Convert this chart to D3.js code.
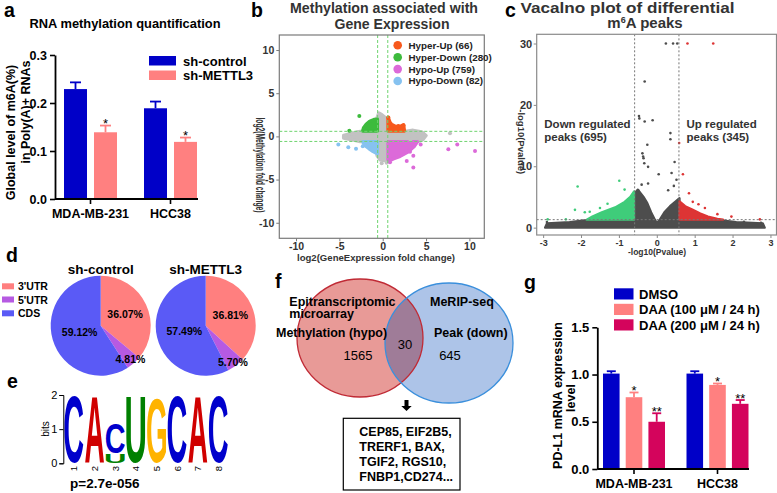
<!DOCTYPE html>
<html><head><meta charset="utf-8">
<script src="https://cdn.jsdelivr.net/npm/d3@7"></script>
<style>body{margin:0;background:#fff}svg{display:block}text{font-family:"Liberation Sans",Arial,sans-serif}</style>
</head><body><svg id="chart" width="777" height="493"></svg>
<script>
// ---------------- DATA ----------------
// Panel a
const aGroups = ["MDA-MB-231", "HCC38"];
const aSeries = ["sh-control", "sh-METTL3"];
const aControl = [0.229, 0.189];
const aControlErr = [0.014, 0.014];
const aMettl3 = [0.139, 0.119];
const aMettl3Err = [0.014, 0.009];
const aMettl3Sig = ["*", "*"];
const aTicks = [0, 0.1, 0.2, 0.3];

// Panel b
const bCategories = ["Hyper-Up (66)", "Hyper-Down (280)", "Hypo-Up (759)", "Hypo-Down (82)"];
const bXTicks = [-10, -5, 0, 5, 10];
const bYTicks = [-10, -5, 0, 5, 10];
const bCutoff = 0.585;
const bGreyCloud = [[-4.5,0.1],[-3.0,0.5],[-2.3,0.6],[-0.75,0.6],[-0.7,2.0],[-0.45,2.7],[-0.1,2.5],[0.5,2.0],[0.6,0.6],[2.8,0.6],[3.5,0.7],[4.5,0.5],[5.0,0.1],[4.6,-0.4],[4.0,-0.6],[0.6,-0.6],[0.55,-2.5],[0.2,-2.8],[-0.3,-2.7],[-0.65,-2.2],[-0.7,-0.6],[-2.6,-0.6],[-3.5,-0.4],[-4.5,-0.2]];
const bHyperUpCloud = [[0.62,0.62],[0.62,2.2],[0.8,1.7],[1.0,1.4],[1.5,1.15],[2.0,1.15],[2.4,1.35],[2.5,0.62]];
const bHyperDownCloud = [[-0.62,0.62],[-2.3,0.62],[-2.2,1.0],[-1.9,1.4],[-1.5,1.75],[-1.0,1.95],[-0.62,2.0]];
const bHypoUpCloud = [[0.62,-0.62],[4.0,-0.62],[3.6,-1.2],[2.9,-1.8],[2.0,-2.3],[1.2,-2.6],[0.62,-2.9]];
const bHypoDownCloud = [[-0.62,-0.62],[-2.3,-0.62],[-2.1,-1.0],[-1.6,-1.4],[-1.1,-1.75],[-0.62,-2.0]];
const bGreyPts = [[-4.3,0.0],[-3.77,-0.15],[4.68,0.36],[4.1,0.07],[7.76,0.35],[-0.12,-3.12],[0.46,-3.05],[-3.3,0.3],[3.2,-0.4]];
const bHyperUpPts = [[0.65,2.2],[2.4,1.25],[1.8,1.2]];
const bHyperDownPts = [[-2.7,2.35],[-3.85,0.65]];
const bHypoUpPts = [[2.69,-1.67],[3.53,-2.25],[2.77,-2.86],[3.53,-3.6],[7.57,-1.5],[8.6,-0.93],[10.65,-1.7],[0.84,-3.0],[4.38,-0.93],[3.15,-1.77]];
const bHypoDownPts = [[-5.12,-0.93],[-3.97,-1.27],[-3.08,-1.43],[-2.3,-1.15]];

// Panel c
const cXTicks = [-3, -2, -1, 0, 1, 2, 3];
const cYTicks = [0, 10, 20, 30];
const cFcCut = 0.585;
const cPCut = 1.3;
const cGreyCloud = [[-2.95,0.0],[-2.9,0.7],[-2.3,0.9],[-1.8,1.25],[-0.6,1.3],[-0.6,5.5],[-0.5,6.2],[-0.35,5.0],[-0.25,4.0],[-0.15,2.5],[-0.05,1.3],[0.0,0.8],[0.08,1.3],[0.2,2.5],[0.35,3.5],[0.5,4.3],[0.6,4.8],[0.6,1.3],[1.6,1.25],[2.1,0.9],[2.8,0.7],[2.85,0.0]];
const cDownCloud = [[-0.6,1.3],[-1.85,1.3],[-1.7,1.8],[-1.45,2.5],[-1.1,3.3],[-0.85,4.2],[-0.7,5.0],[-0.6,5.9]];
const cUpCloud = [[0.6,1.3],[0.6,4.3],[0.75,3.5],[0.95,2.9],[1.15,2.3],[1.35,1.8],[1.6,1.45],[1.75,1.3]];
const cGreyPts = [[0.24,30],[0.43,30],[0.54,30],[-0.32,23.8],[-0.47,18.2],[-0.46,17.8],[-0.32,17.3],[-0.11,17.5],[-0.25,13.5],[0.36,15.4],[0.36,14.4],[-0.38,12.1],[-0.36,11.6],[-0.35,11.3],[-0.33,10.5],[0.47,10.7],[0.39,8.9],[-0.23,7.2],[-0.23,9.9],[0.3,6.1],[0.52,7.8],[-0.49,6.1],[0.05,8.7],[-0.4,7.0],[0.45,6.8],[-2.9,0.9],[2.75,0.8],[2.3,0.95],[-2.5,0.7]];
const cDownPts = [[-2.09,6.7],[-0.99,7.65],[-2.16,2.9],[-2.4,1.35],[-2.88,1.35],[-1.77,2.6],[-1.9,2.5],[-1.5,3.2],[-1.3,3.9],[-0.85,6.2]];
const cUpPts = [[0.81,30],[1.49,30],[0.59,13.8],[0.69,8.7],[0.85,5.6],[1.27,3.2],[1.97,1.8],[2.72,1.35],[1.1,3.8],[0.95,4.2],[1.6,2.2]];
const cLabels = ["Down regulated", "peaks (695)", "Up regulated", "peaks (345)"];

// Panel d
const dRegions = ["3'UTR", "5'UTR", "CDS"];
const dSamples = ["sh-control", "sh-METTL3"];
const dControl = [36.07, 4.81, 59.12];
const dMettl3 = [36.81, 5.70, 57.49];

// Panel e
const eLetters = [["C"],["A"],["U","C"],["U"],["G"],["C"],["A"],["C"]];
const eBits = [[1.95],[1.95],[0.28,0.88],[1.95],[1.9],[1.95],[1.95],[1.95]];
const eTicks = [0, 1, 2];
const eP = "p=2.7e-056";

// Panel f
const fSetA = ["Epitranscriptomic", "microarray", "Methylation (hypo)"];
const fSetB = ["MeRIP-seq", "Peak (down)"];
const fCounts = [1565, 30, 645];
const fGenes = ["CEP85, EIF2B5,", "TRERF1, BAX,", "TGIF2, RGS10,", "FNBP1,CD274..."];

// Panel g
const gGroups = ["MDA-MB-231", "HCC38"];
const gSeries = ["DMSO", "DAA (100 \u03bcM / 24 h)", "DAA (200 \u03bcM / 24 h)"];
const gDMSO = [1.01, 1.01];
const gDMSOErr = [0.025, 0.025];
const gDAA100 = [0.76, 0.89];
const gDAA100Err = [0.05, 0.015];
const gDAA200 = [0.50, 0.69];
const gDAA200Err = [0.09, 0.04];
const gSig = [["", "*", "**"], ["", "*", "**"]];
const gTicks = [0, 0.5, 1.0, 1.5];

// ---------------- DRAW ----------------
const svg = d3.select("#chart");
svg.append("rect").attr("width", 777).attr("height", 493).attr("fill", "#fff");

function txt(g, x, y, s, o = {}) {
  const t = g.append("text").attr("x", x).attr("y", y).text(s)
    .attr("font-size", o.size || 12).attr("font-weight", o.weight || "bold")
    .attr("fill", o.fill || "#000").attr("text-anchor", o.anchor || "start");
  if (o.len) t.attr("textLength", o.len).attr("lengthAdjust", "spacingAndGlyphs");
  if (o.rotate) t.attr("transform", `rotate(${o.rotate},${x},${y})`);
  if (o.family) t.attr("font-family", o.family);
  return t;
}

// panel letters
[["a",4,17],["b",251,17],["c",505,17],["d",6,262],["e",7,388],["f",275,288],["g",524,289]]
  .forEach(([s,x,y]) => txt(svg, x, y, s, {size: 19.5}));

// ===== Panel a =====
{
  const g = svg.append("g");
  const ay = d3.scaleLinear().domain([0, 0.3]).range([199, 55]);
  const ax = d3.scalePoint().domain(aGroups).range([90.5, 170.5]);
  const inner = d3.scaleBand().domain(aSeries).range([-26.5, 26.5]).paddingInner(0.233);
  const colors = ["#0000c8", "#ff8080"];
  const vals = [aControl, aMettl3], errs = [aControlErr, aMettl3Err], sigs = [["",""], aMettl3Sig];
  aSeries.forEach((s, si) => {
    aGroups.forEach((grp, gi) => {
      const v = vals[si][gi], e = errs[si][gi];
      const x = ax(grp) + inner(s), w = inner.bandwidth(), cxm = x + w / 2;
      g.append("rect").attr("x", x).attr("y", ay(v)).attr("width", w).attr("height", ay(0) - ay(v)).attr("fill", colors[si]);
      g.append("line").attr("x1", cxm).attr("x2", cxm).attr("y1", ay(v)).attr("y2", ay(v + e)).attr("stroke", colors[si]).attr("stroke-width", 1.8);
      g.append("line").attr("x1", cxm - 5.5).attr("x2", cxm + 5.5).attr("y1", ay(v + e)).attr("y2", ay(v + e)).attr("stroke", colors[si]).attr("stroke-width", 1.8);
      if (sigs[si][gi]) txt(g, cxm, ay(v + e) + 2.5, sigs[si][gi], {size: 13, weight: "normal", anchor: "middle"});
    });
  });
  const yAxis = g.append("g").attr("transform", "translate(55,0)")
    .call(d3.axisLeft(ay).tickValues(aTicks).tickFormat(d3.format(".1f")).tickSize(5).tickSizeOuter(0));
  yAxis.select(".domain").attr("stroke-width", 1.8);
  yAxis.selectAll(".tick line").attr("stroke-width", 1.6);
  yAxis.selectAll("text").attr("font-size", 12.5).attr("font-weight", "bold").attr("font-family", '"Liberation Sans",Arial');
  g.append("line").attr("x1", 55).attr("x2", 198).attr("y1", ay(0)).attr("y2", ay(0)).attr("stroke", "#000").attr("stroke-width", 1.8);
  aGroups.forEach(grp => {
    g.append("line").attr("x1", ax(grp)).attr("x2", ax(grp)).attr("y1", ay(0)).attr("y2", ay(0) + 5).attr("stroke", "#000").attr("stroke-width", 1.6);
    txt(g, ax(grp), 218, grp, {size: 12.5, anchor: "middle"});
  });
  txt(g, 125, 28.3, "RNA methylation quantification", {size: 12.5, anchor: "middle", len: 191});
  txt(g, 15, 132.5, "Global level of m6A(%)", {size: 12.5, anchor: "middle", rotate: -90});
  txt(g, 29.5, 112, "in Poly(A)+ RNAs", {size: 12.5, anchor: "middle", rotate: -90});
  aSeries.forEach((s, i) => {
    g.append("rect").attr("x", 149).attr("y", 56 + i * 14.5).attr("width", 27).attr("height", 9.5).attr("fill", colors[i]);
    txt(g, 183, 65.5 + i * 14.5, s, {size: 13});
  });
}

// ===== Panel b =====
{
  const g = svg.append("g");
  const bx = d3.scaleLinear().domain([-11.93, 11.72]).range([279.3, 484.3]);
  const by = d3.scaleLinear().domain([-11.8, 11.74]).range([238.3, 35]);
  const [X0, X1] = bx.range(), [Y1, Y0] = by.range();
  svg.append("clipPath").attr("id", "clipB").append("rect").attr("x", X0).attr("y", Y0).attr("width", X1 - X0).attr("height", Y1 - Y0);
  const plot = g.append("g").attr("clip-path", "url(#clipB)");
  const line = d3.line().x(d => bx(d[0])).y(d => by(d[1])).curve(d3.curveLinearClosed);
  const cols = {grey: "#c2c2c2", hu: "#f7581c", hd: "#3dbb3d", pu: "#dc6ad9", pd: "#86c2f0"};
  const clouds = [[bGreyCloud, cols.grey], [bHyperUpCloud, cols.hu], [bHyperDownCloud, cols.hd], [bHypoUpCloud, cols.pu], [bHypoDownCloud, cols.pd]];
  clouds.forEach(([pts, c]) => plot.append("path").attr("d", line(pts)).attr("fill", c).attr("stroke", c).attr("stroke-width", 3.5).attr("stroke-linejoin", "round"));
  const ptsets = [[bGreyPts, cols.grey], [bHyperUpPts, cols.hu], [bHyperDownPts, cols.hd], [bHypoUpPts, cols.pu], [bHypoDownPts, cols.pd]];
  ptsets.forEach(([pts, c]) => plot.selectAll(null).data(pts).enter().append("circle")
    .attr("cx", d => bx(d[0])).attr("cy", d => by(d[1])).attr("r", 2).attr("fill", c));
  [-bCutoff, bCutoff].forEach(v => {
    plot.append("line").attr("x1", bx(v)).attr("x2", bx(v)).attr("y1", Y0).attr("y2", Y1).attr("stroke", "#6fd46f").attr("stroke-width", 1).attr("stroke-dasharray", "3,2");
    plot.append("line").attr("x1", X0).attr("x2", X1).attr("y1", by(v)).attr("y2", by(v)).attr("stroke", "#6fd46f").attr("stroke-width", 1).attr("stroke-dasharray", "3,2");
  });
  g.append("rect").attr("x", X0).attr("y", Y0).attr("width", X1 - X0).attr("height", Y1 - Y0).attr("fill", "none").attr("stroke", "#7a7a7a").attr("stroke-width", 1.2);
  const xa = g.append("g").attr("transform", `translate(0,${Y1})`).call(d3.axisBottom(bx).tickValues(bXTicks).tickSize(3).tickPadding(1).tickFormat(d => String(d)));
  const ya = g.append("g").attr("transform", `translate(${X0},0)`).call(d3.axisLeft(by).tickValues(bYTicks).tickSize(3).tickPadding(2).tickFormat(d => String(d)));
  [xa, ya].forEach(a => {
    a.select(".domain").remove();
    a.selectAll(".tick line").attr("stroke", "#7a7a7a");
    a.selectAll("text").attr("font-size", 10.5).attr("font-weight", "bold").attr("fill", "#333").attr("font-family", '"Liberation Sans",Arial');
  });
  txt(g, 376, 260.5, "log2(GeneExpression fold change)", {size: 9.8, anchor: "middle", fill: "#333", len: 158});
  txt(g, 256, 165, "log2(Methylation fold change)", {size: 12, anchor: "middle", fill: "#333", rotate: 90, len: 95});
  txt(g, 384, 13, "Methylation associated with", {size: 15.5, anchor: "middle", fill: "#333", len: 188});
  txt(g, 392, 28.5, "Gene Expression", {size: 15.5, anchor: "middle", fill: "#333", len: 115});
  const legCols = [cols.hu, cols.hd, cols.pu, cols.pd];
  bCategories.forEach((s, i) => {
    const yy = 45.3 + i * 11.9;
    g.append("circle").attr("cx", 397.7).attr("cy", yy).attr("r", 4.3).attr("fill", legCols[i]);
    txt(g, 408.5, yy + 3.4, s, {size: 9.8, fill: "#222", family: '"Liberation Serif","Times New Roman",serif'});
  });
}

// ===== Panel c =====
{
  const g = svg.append("g");
  const cx = d3.scaleLinear().domain([-3.17, 3.16]).range([536.7, 776.5]);
  const cy = d3.scaleLinear().domain([-1.2, 31.5]).range([235, 34.3]);
  const [X0, X1] = cx.range(), [Y1, Y0] = cy.range();
  svg.append("clipPath").attr("id", "clipC").append("rect").attr("x", X0).attr("y", Y0).attr("width", X1 - X0).attr("height", Y1 - Y0);
  const plot = g.append("g").attr("clip-path", "url(#clipC)");
  const line = d3.line().x(d => cx(d[0])).y(d => cy(d[1])).curve(d3.curveLinearClosed);
  const cols = {grey: "#4d4d4d", down: "#3fcc7a", up: "#dd3434"};
  [[cGreyCloud, cols.grey], [cDownCloud, cols.down], [cUpCloud, cols.up]].forEach(([pts, c]) =>
    plot.append("path").attr("d", line(pts)).attr("fill", c).attr("stroke", c).attr("stroke-width", 2.2).attr("stroke-linejoin", "round"));
  [[cGreyPts, cols.grey], [cDownPts, cols.down], [cUpPts, cols.up]].forEach(([pts, c]) =>
    plot.selectAll(null).data(pts).enter().append("circle").attr("cx", d => cx(d[0])).attr("cy", d => cy(d[1])).attr("r", 1.3).attr("fill", c));
  [-cFcCut, cFcCut].forEach(v => plot.append("line").attr("x1", cx(v)).attr("x2", cx(v)).attr("y1", Y0).attr("y2", Y1)
    .attr("stroke", "#777").attr("stroke-width", 1).attr("stroke-dasharray", "2,2"));
  plot.append("line").attr("x1", X0).attr("x2", X1).attr("y1", cy(cPCut)).attr("y2", cy(cPCut)).attr("stroke", "#777").attr("stroke-width", 1).attr("stroke-dasharray", "2,2");
  g.append("rect").attr("x", X0).attr("y", Y0).attr("width", X1 - X0).attr("height", Y1 - Y0).attr("fill", "none").attr("stroke", "#8a8a8a").attr("stroke-width", 1.2);
  const xa = g.append("g").attr("transform", `translate(0,${Y1})`).call(d3.axisBottom(cx).tickValues(cXTicks).tickSize(3).tickPadding(1.5).tickFormat(d => String(d)));
  const ya = g.append("g").attr("transform", `translate(${X0},0)`).call(d3.axisLeft(cy).tickValues(cYTicks).tickSize(3).tickPadding(1.5).tickFormat(d => String(d)));
  [xa, ya].forEach(a => {
    a.select(".domain").remove();
    a.selectAll(".tick line").attr("stroke", "#8a8a8a");
    a.selectAll("text").attr("font-weight", "bold").attr("fill", "#333").attr("font-family", '"Liberation Sans",Arial');
  });
  xa.selectAll("text").attr("font-size", 9);
  ya.selectAll("text").attr("font-size", 11);
  txt(g, 657, 255, "-log10(Pvalue)", {size: 8.5, anchor: "middle", fill: "#333"});
  txt(g, 518, 141.7, "-log10(Pvalue)", {size: 9.5, anchor: "middle", fill: "#333", rotate: 90});
  txt(g, 627.5, 12.5, "Vacalno plot of differential", {size: 15, anchor: "middle", fill: "#333", len: 214});
  const t2 = txt(g, 645, 28, "m", {size: 15, anchor: "middle", fill: "#333"});
  t2.append("tspan").attr("font-size", 9).attr("dy", -5.5).text("6");
  t2.append("tspan").attr("dy", 5.5).text("A peaks");
  txt(g, 544.3, 128, cLabels[0], {size: 11.5, fill: "#333"});
  txt(g, 544.3, 140.5, cLabels[1], {size: 11.5, fill: "#333"});
  txt(g, 686.5, 128, cLabels[2], {size: 11.5, fill: "#333"});
  txt(g, 686.5, 140.5, cLabels[3], {size: 11.5, fill: "#333"});
}

// ===== Panel d =====
{
  const g = svg.append("g");
  const colors = d3.scaleOrdinal().domain(dRegions).range(["#ff7f7f", "#b65ae2", "#5a5af6"]);
  const pie = d3.pie().sort(null).value(d => d.v);
  const arc = d3.arc().innerRadius(0).outerRadius(50);
  const labelR = [27, 45, 22];
  const centers = [100.7, 205.7];
  [dControl, dMettl3].forEach((vals, si) => {
    const pg = g.append("g").attr("transform", `translate(${centers[si]},325.7)`);
    const arcs = pie(dRegions.map((r, i) => ({r, v: vals[i]})));
    pg.selectAll(null).data(arcs).enter().append("path").attr("d", arc).attr("fill", d => colors(d.data.r));
    arcs.forEach((a, i) => {
      const la = d3.arc().innerRadius(labelR[i]).outerRadius(labelR[i]);
      const [lx, ly] = la.centroid(a);
      txt(pg, lx, ly + 4, vals[i].toFixed(2) + "%", {size: 10.5, anchor: "middle"});
    });
    txt(g, centers[si], 274, dSamples[si], {size: 13.5, anchor: "middle"});
  });
  dRegions.forEach((r, i) => {
    const yy = [283.3, 296.5, 310.3][i];
    g.append("rect").attr("x", 2).attr("y", yy).attr("width", 12).attr("height", 6).attr("fill", colors(r));
    txt(g, 18, yy + 7, r, {size: 10.5});
  });
}

// ===== Panel e =====
{
  const g = svg.append("g");
  const ey = d3.scaleLinear().domain([0, 2]).range([463.3, 395]);
  const ex = d3.scaleBand().domain(d3.range(1, 9)).range([64.5, 228]).paddingInner(0.08);
  const colorOf = {A: "#d00000", C: "#0000cc", G: "#ffb300", U: "#008000"};
  const ctx = document.createElement("canvas").getContext("2d");
  ctx.font = 'bold 100px "Liberation Sans"';
  function glyph(ch, x0, w, yBottom, h) {
    const m = ctx.measureText(ch);
    const L = -m.actualBoundingBoxLeft, R = m.actualBoundingBoxRight, T = -m.actualBoundingBoxAscent, B = m.actualBoundingBoxDescent;
    const sx = w / (R - L), sy = h / (B - T);
    g.append("text").text(ch).attr("font-size", 100).attr("font-weight", "bold").attr("font-family", '"Liberation Sans"')
      .attr("fill", colorOf[ch]).attr("transform", `translate(${x0 - L * sx},${yBottom - B * sy}) scale(${sx},${sy})`);
  }
  eLetters.forEach((stack, i) => {
    let cum = 0;
    stack.forEach((ch, j) => {
      const b = eBits[i][j];
      glyph(ch, ex(i + 1), ex.bandwidth(), ey(cum), ey(0) - ey(b));
      cum += b;
    });
    const cxm = ex(i + 1) + ex.bandwidth() / 2;
    txt(g, cxm + 3.5, 466, String(i + 1), {size: 9.5, weight: "normal", anchor: "end", rotate: -90});
  });
  const ya = g.append("g").attr("transform", "translate(63.3,0)").call(d3.axisLeft(ey).tickValues(eTicks).tickSize(4).tickPadding(2).tickFormat(d => String(d)));
  ya.selectAll("text").attr("font-size", 11).attr("font-family", '"Liberation Sans",Arial');
  txt(g, 49, 429, "bits", {size: 10, weight: "normal", anchor: "middle", rotate: -90});
  txt(g, 70, 488, eP, {size: 13.5});
}

// ===== Panel f =====
{
  const g = svg.append("g");
  const A = {cx: 360, cy: 338, rx: 63, ry: 59}, B = {cx: 449, cy: 343, rx: 64, ry: 60};
  svg.append("clipPath").attr("id", "clipF").append("ellipse").attr("cx", B.cx).attr("cy", B.cy).attr("rx", B.rx).attr("ry", B.ry);
  g.append("ellipse").attr("cx", A.cx).attr("cy", A.cy).attr("rx", A.rx).attr("ry", A.ry).attr("fill", "#e89a97");
  g.append("ellipse").attr("cx", B.cx).attr("cy", B.cy).attr("rx", B.rx).attr("ry", B.ry).attr("fill", "#adc4e8");
  g.append("ellipse").attr("cx", A.cx).attr("cy", A.cy).attr("rx", A.rx).attr("ry", A.ry).attr("fill", "#9f7c98").attr("clip-path", "url(#clipF)");
  g.append("ellipse").attr("cx", A.cx).attr("cy", A.cy).attr("rx", A.rx).attr("ry", A.ry).attr("fill", "none").attr("stroke", "#c02a35").attr("stroke-width", 1.3);
  g.append("ellipse").attr("cx", B.cx).attr("cy", B.cy).attr("rx", B.rx).attr("ry", B.ry).attr("fill", "none").attr("stroke", "#3a8fdc").attr("stroke-width", 1.3);
  txt(g, 289.3, 305.7, fSetA[0], {size: 12.5});
  txt(g, 289.3, 318.3, fSetA[1], {size: 12.5});
  txt(g, 276, 336.7, fSetA[2], {size: 12.5});
  txt(g, 430, 305.7, fSetB[0], {size: 12.5});
  txt(g, 434, 336.7, fSetB[1], {size: 12.5});
  txt(g, 358, 360, String(fCounts[0]), {size: 13, weight: "normal", anchor: "middle"});
  txt(g, 405, 349.3, String(fCounts[1]), {size: 13, weight: "normal", anchor: "middle"});
  txt(g, 450, 360, String(fCounts[2]), {size: 13, weight: "normal", anchor: "middle"});
  g.append("path").attr("d", "M404.5,400 L408.5,400 L408.5,406 L411.7,406 L406.5,411 L401.3,406 L404.5,406 Z").attr("fill", "#000");
  g.append("rect").attr("x", 343.3).attr("y", 418.3).attr("width", 116.7).attr("height", 71.7).attr("fill", "#fff").attr("stroke", "#000").attr("stroke-width", 1.2);
  fGenes.forEach((s, i) => txt(g, 359.3, 436 + i * 15, s, {size: 12.5}));
}

// ===== Panel g =====
{
  const g = svg.append("g");
  const gy = d3.scaleLinear().domain([0, 1.5]).range([469, 327.3]);
  const gx = d3.scalePoint().domain(gGroups).range([634, 717.5]);
  const inner = d3.scaleBand().domain(gSeries).range([-31, 31]).paddingInner(0.27);
  const colors = ["#0000c8", "#ff8080", "#d4045c"];
  const vals = [gDMSO, gDAA100, gDAA200], errs = [gDMSOErr, gDAA100Err, gDAA200Err];
  gSeries.forEach((s, si) => {
    gGroups.forEach((grp, gi) => {
      const v = vals[si][gi], e = errs[si][gi];
      const x = gx(grp) + inner(s), w = inner.bandwidth(), cxm = x + w / 2;
      g.append("rect").attr("x", x).attr("y", gy(v)).attr("width", w).attr("height", gy(0) - gy(v)).attr("fill", colors[si]);
      g.append("line").attr("x1", cxm).attr("x2", cxm).attr("y1", gy(v)).attr("y2", gy(v + e)).attr("stroke", colors[si]).attr("stroke-width", 1.8);
      g.append("line").attr("x1", cxm - 4.5).attr("x2", cxm + 4.5).attr("y1", gy(v + e)).attr("y2", gy(v + e)).attr("stroke", colors[si]).attr("stroke-width", 1.8);
      if (gSig[gi][si]) txt(g, cxm, gy(v + e) + 2.5, gSig[gi][si], {size: 13, weight: "normal", anchor: "middle"});
    });
  });
  const ya = g.append("g").attr("transform", "translate(597.3,0)")
    .call(d3.axisLeft(gy).tickValues(gTicks).tickFormat(d3.format(".1f")).tickSize(5).tickSizeOuter(0));
  ya.select(".domain").attr("stroke-width", 1.8);
  ya.selectAll(".tick line").attr("stroke-width", 1.6);
  ya.selectAll("text").attr("font-size", 13).attr("font-weight", "bold").attr("font-family", '"Liberation Sans",Arial');
  g.append("line").attr("x1", 597.3).attr("x2", 749).attr("y1", gy(0)).attr("y2", gy(0)).attr("stroke", "#000").attr("stroke-width", 1.8);
  gGroups.forEach(grp => {
    g.append("line").attr("x1", gx(grp)).attr("x2", gx(grp)).attr("y1", gy(0)).attr("y2", gy(0) + 5).attr("stroke", "#000").attr("stroke-width", 1.6);
    txt(g, gx(grp), 488, grp, {size: 12.5, anchor: "middle"});
  });
  txt(g, 562, 395.5, "PD-L1 mRNA expression", {size: 12.5, anchor: "middle", rotate: -90});
  txt(g, 575, 398, "level", {size: 12.5, anchor: "middle", rotate: -90});
  gSeries.forEach((s, i) => {
    const yy = 288.3 + i * 15.5;
    g.append("rect").attr("x", 614).attr("y", yy).attr("width", 19.5).attr("height", 11.2).attr("fill", colors[i]);
    txt(g, 639, yy + 10.3, s, {size: 13});
  });
}
</script></body></html>
